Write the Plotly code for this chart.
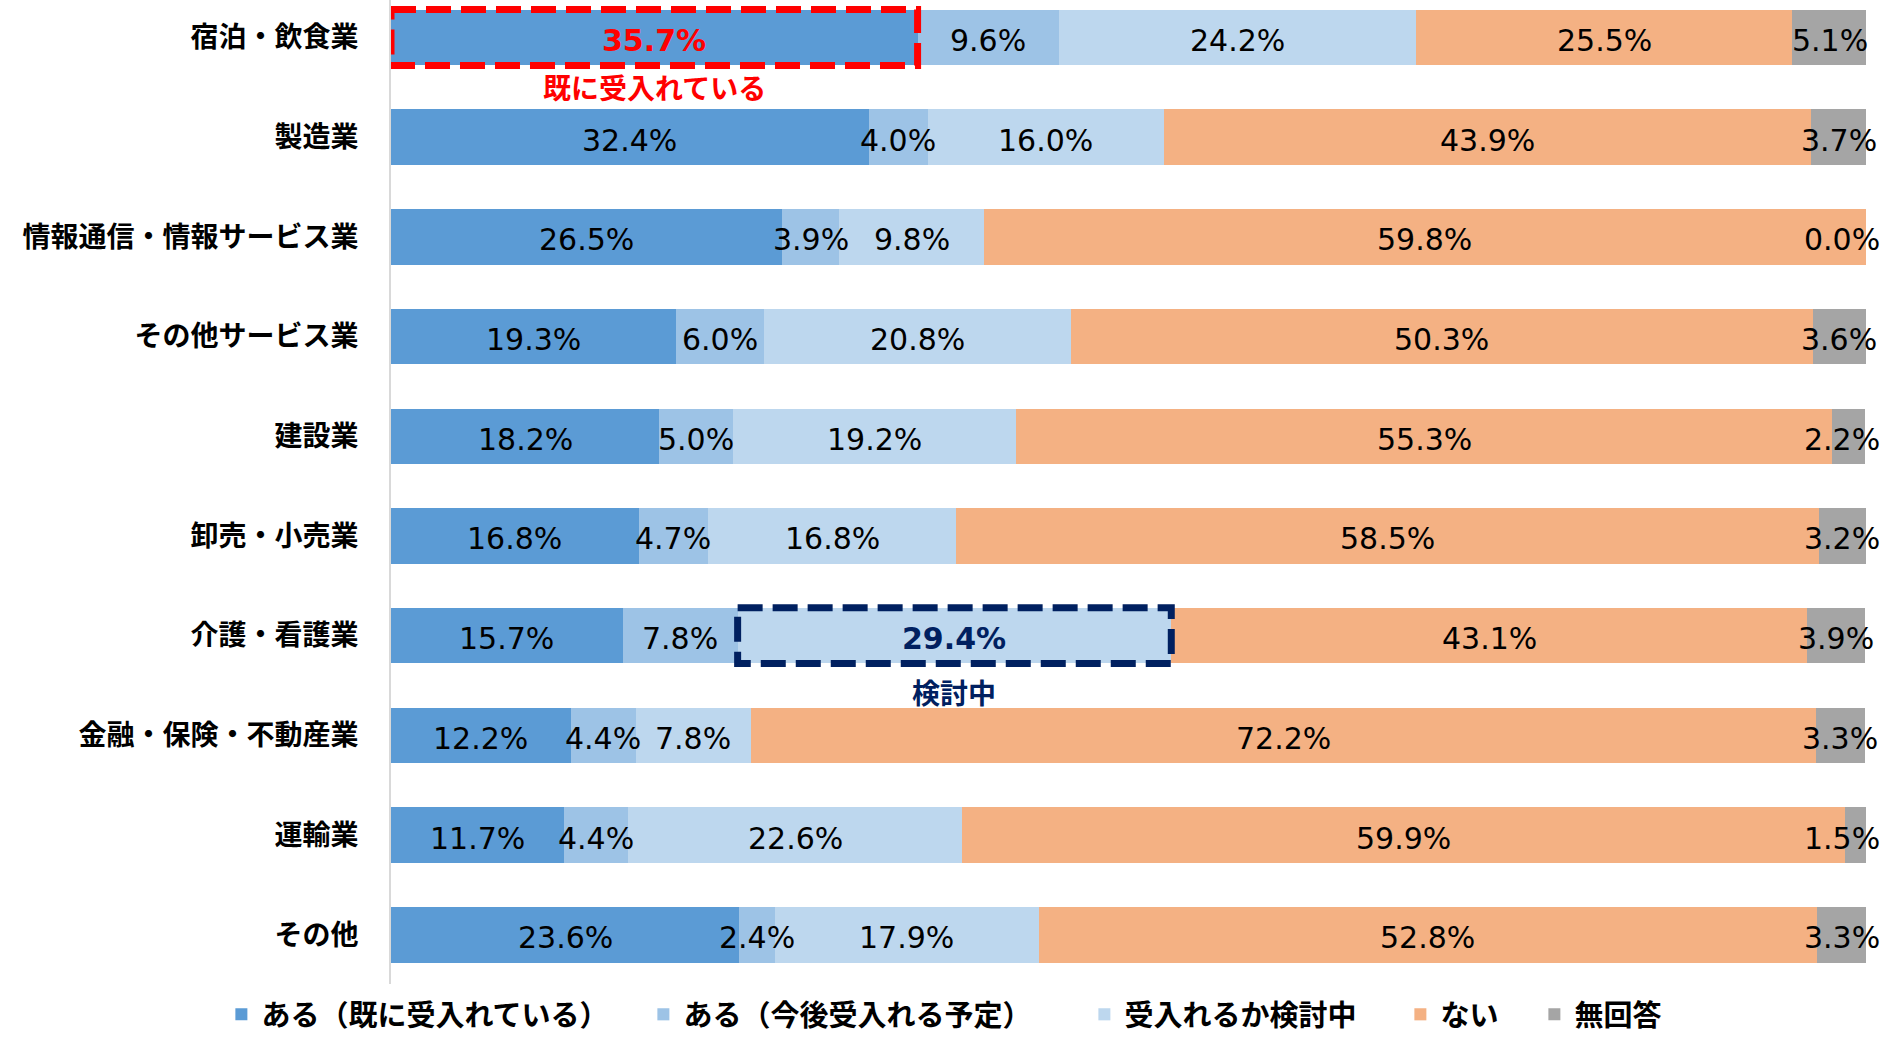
import plotly.graph_objects as go

categories = ["宿泊・飲食業", "製造業", "情報通信・情報サービス業", "その他サービス業", "建設業",
              "卸売・小売業", "介護・看護業", "金融・保険・不動産業", "運輸業", "その他"]
series_names = ["ある（既に受入れている）", "ある（今後受入れる予定）", "受入れるか検討中", "ない", "無回答"]
already = [35.7, 32.4, 26.5, 19.3, 18.2, 16.8, 15.7, 12.2, 11.7, 23.6]
planned = [9.6, 4.0, 3.9, 6.0, 5.0, 4.7, 7.8, 4.4, 4.4, 2.4]
considering = [24.2, 16.0, 9.8, 20.8, 19.2, 16.8, 29.4, 7.8, 22.6, 17.9]
no = [25.5, 43.9, 59.8, 50.3, 55.3, 58.5, 43.1, 72.2, 59.9, 52.8]
no_answer = [5.1, 3.7, 0.0, 3.6, 2.2, 3.2, 3.9, 3.3, 1.5, 3.3]

colors = ["#5B9BD5", "#9DC3E6", "#BDD7EE", "#F4B183", "#A5A5A5"]
series = [already, planned, considering, no, no_answer]
legend_widths = [377, 396, 271, 89, 0]
label_max_center = 98.4  # keeps labels of thin end segments inside the chart area

# highlighted cells: (series index, category index, colour, note text)
highlights = [(0, 0, "#FF0000", "既に受入れている"), (2, 6, "#002060", "検討中")]

fig = go.Figure()
for si, (name, vals, col) in enumerate(zip(series_names, series, colors)):
    fig.add_trace(go.Bar(
        y=categories, x=vals, name=name, orientation="h",
        marker=dict(color=col, line=dict(width=0)),
        cliponaxis=False, hoverinfo="skip",
        legendwidth=legend_widths[si] if legend_widths[si] else None,
    ))

# data labels drawn above all bars
for si, vals in enumerate(series):
    for ci, v in enumerate(vals):
        left = sum(series[k][ci] for k in range(si))
        xc = min(left + v / 2, label_max_center)
        t = f"{v:.1f}%"
        c = "#000000"
        for hs, hc, hcol, _ in highlights:
            if hs == si and hc == ci:
                t = f"<b>{t}</b>"
                c = hcol
        fig.add_annotation(x=xc, y=categories[ci], xref="x", yref="y", text=t,
                           showarrow=False, xanchor="center", yanchor="middle", yshift=-3,
                           font=dict(family="DejaVu Sans", size=30, color=c))

half = 0.28
for si, ci, hcol, note in highlights:
    x0 = sum(series[k][ci] for k in range(si))
    x1 = x0 + series[si][ci]
    fig.add_shape(type="rect", xref="x", yref="y", x0=x0, x1=x1, y0=ci - half, y1=ci + half,
                  line=dict(color=hcol, width=7, dash="25px,10px"), layer="above")
    fig.add_annotation(x=(x0 + x1) / 2, y=ci + (0.5 if ci == 0 else 0.57), xref="x", yref="y",
                       text=f"<b>{note}</b>", showarrow=False,
                       font=dict(family="Noto Sans CJK JP", size=28, color=hcol))

fig.update_layout(
    barmode="stack",
    width=1893, height=1037,
    margin=dict(l=391, r=27, t=0, b=53, autoexpand=False),
    paper_bgcolor="white", plot_bgcolor="white",
    bargap=0.443,
    font=dict(family="Noto Sans CJK JP", color="#000000"),
    xaxis=dict(range=[0, 100], showgrid=False, showticklabels=False, zeroline=False,
               showline=False, ticks=""),
    yaxis=dict(range=[9.494, -0.376], showgrid=False, zeroline=False, showline=True,
               linecolor="#D9D9D9", linewidth=2, ticks="", ticklabelstandoff=25,
               tickfont=dict(family="Noto Sans CJK JP", size=28, color="#000000", weight="bold")),
    legend=dict(orientation="h", x=-0.115, xanchor="left", y=-0.031, yanchor="middle",
                font=dict(family="Noto Sans CJK JP", size=29, color="#000000", weight="bold"),
                traceorder="normal", itemclick=False),
    showlegend=True,
)

fig.write_html("out.html")
